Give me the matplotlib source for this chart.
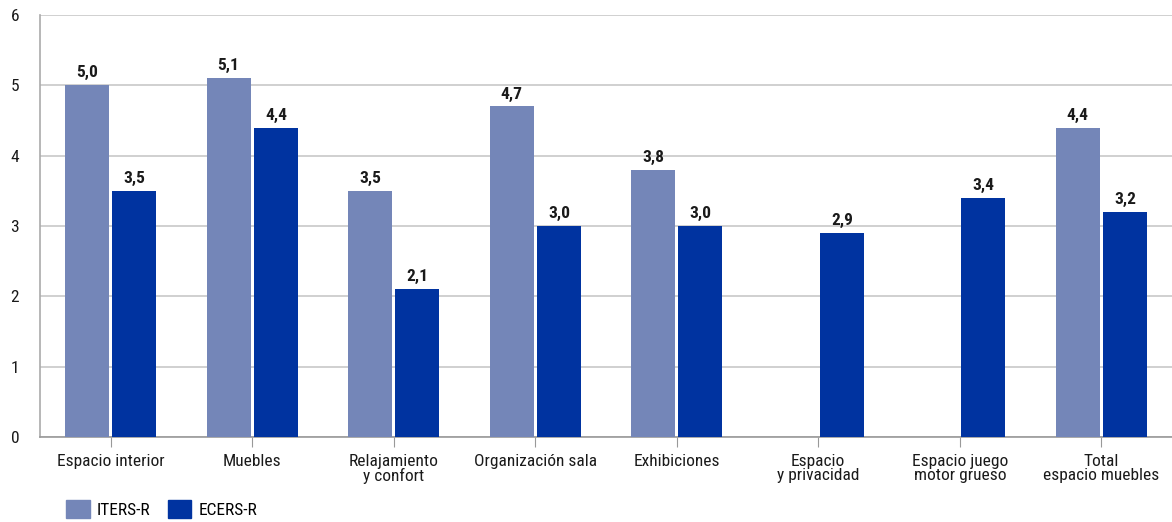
import matplotlib
matplotlib.use("Agg")
import matplotlib.pyplot as plt
import numpy as np
from matplotlib import font_manager

names = {f.name for f in font_manager.fontManager.ttflist}
fam = [f for f in ["Roboto Condensed", "Liberation Sans Narrow", "DejaVu Sans Condensed", "Open Sans Condensed"] if f in names]
plt.rcParams['font.family'] = fam + ["DejaVu Sans"]

categories = ["Espacio interior", "Muebles", "Relajamiento\ny confort", "Organización sala",
              "Exhibiciones", "Espacio\ny privacidad", "Espacio juego\nmotor grueso", "Total\nespacio muebles"]
iters = [5.0, 5.1, 3.5, 4.7, 3.8, None, None, 4.4]
ecers = [3.5, 4.4, 2.1, 3.0, 3.0, 2.9, 3.4, 3.2]
series_names = ["ITERS-R", "ECERS-R"]
yticks = [0, 1, 2, 3, 4, 5, 6]

c1 = "#7486B8"
c2 = "#0033A0"

fig = plt.figure(figsize=(11.72, 5.22), dpi=100)
ax = fig.add_axes([40/1172, 1-437/522, 1-40/1172, (437-15)/522])

x = np.arange(len(categories))
w = 0.31
off = 0.167
for i in range(len(categories)):
    if iters[i] is not None:
        ax.bar(x[i]-off, iters[i], w, color=c1, zorder=3)
        ax.text(x[i]-off, iters[i]+0.07, f"{iters[i]:.1f}".replace(".", ","), ha="center", va="bottom",
                fontsize=12.5, fontweight="bold", color="#1a1a1a")
    if ecers[i] is not None:
        ax.bar(x[i]+off, ecers[i], w, color=c2, zorder=3)
        ax.text(x[i]+off, ecers[i]+0.07, f"{ecers[i]:.1f}".replace(".", ","), ha="center", va="bottom",
                fontsize=12.5, fontweight="bold", color="#1a1a1a")

ax.set_xlim(-0.5, len(categories)-0.5)
ax.set_ylim(0, 6)
ax.set_yticks(yticks)
ax.set_yticklabels([str(t) for t in yticks], fontsize=12.5, color="#1a1a1a")
ax.tick_params(axis="y", length=0, pad=15)
ax.set_xticks(x)
ax.set_xticklabels(categories, fontsize=12.5, color="#1a1a1a", linespacing=0.95)
ax.tick_params(axis="x", length=7.2, color="#999999", pad=5)
ax.grid(axis="y", color="#c8c8c8", linewidth=1.2, zorder=0)
for s in ["top", "right"]:
    ax.spines[s].set_visible(False)
ax.spines["left"].set_color("#aaaaaa")
ax.spines["bottom"].set_color("#999999")
ax.spines["left"].set_linewidth(1.2)
ax.spines["bottom"].set_linewidth(1.2)

from matplotlib.patches import Patch
handles = [Patch(color=c1), Patch(color=c2)]
fig.legend(handles, series_names, loc="lower left", bbox_to_anchor=(50/1172, -0.022), ncol=2,
           frameon=False, fontsize=12.5, handlelength=1.38, handleheight=1.15, handletextpad=0.4,
           columnspacing=1.0)

fig.savefig("out.png", dpi=100)
